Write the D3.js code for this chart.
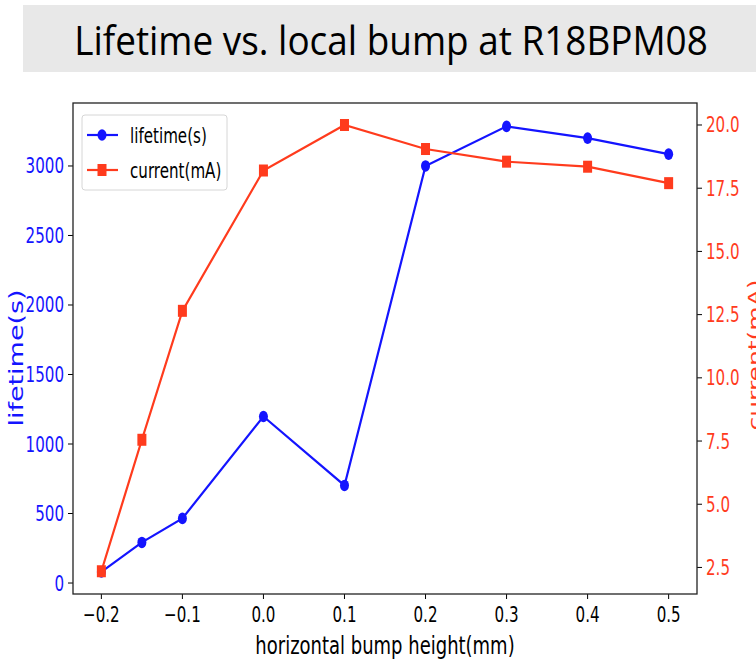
<!DOCTYPE html>
<html>
  <head>
    <meta charset="utf-8">
    <title>Lifetime vs. local bump</title>
    <script src="https://d3js.org/d3.v7.min.js"></script>
    <style>
      body { margin: 0; background: #fff; }
      text { font-family: "DejaVu Sans", sans-serif; }
    </style>
  </head>
  <body>
    <div id="chart"></div>
    <script>
      // data
      var bump = [-0.2, -0.15, -0.1, 0.0, 0.1, 0.2, 0.3, 0.4, 0.5];
      var lifetime = [80, 292, 465, 1198, 702, 3000, 3285, 3200, 3085];
      var current = [2.35, 7.55, 12.65, 18.2, 20.0, 19.05, 18.55, 18.35, 17.7];
      var xTicks = [-0.2, -0.1, 0.0, 0.1, 0.2, 0.3, 0.4, 0.5];
      var leftTicks = [0, 500, 1000, 1500, 2000, 2500, 3000];
      var rightTicks = [2.5, 5.0, 7.5, 10.0, 12.5, 15.0, 17.5, 20.0];

      var width = 756, height = 661;
      var blue = "#1414ff", red = "#ff3b1d";
      var sx = 0.72; // chart image was squeezed sideways
      var plot = { left: 73, right: 697, top: 103, bottom: 594 };

      var svg = d3.select("#chart").append("svg")
        .attr("width", width)
        .attr("height", height);

      // title banner
      svg.append("rect")
        .attr("x", 23).attr("y", 5)
        .attr("width", width - 23).attr("height", 67)
        .attr("fill", "#e8e8e8");
      svg.append("text")
        .attr("x", 391).attr("y", 55)
        .attr("text-anchor", "middle")
        .style("font-family", "'Open Sans', 'Noto Sans', sans-serif")
        .style("font-size", "41px")
        .attr("fill", "#000")
        .attr("transform", "translate(391,0) scale(0.9,1) translate(-391,0)")
        .text("Lifetime vs. local bump at R18BPM08");

      // scales
      var x = d3.scaleLinear().domain([-0.235, 0.535]).range([plot.left, plot.right]);
      var yL = d3.scaleLinear().domain([-79, 3453]).range([plot.bottom, plot.top]);
      var yR = d3.scaleLinear().domain([1.45, 20.87]).range([plot.bottom, plot.top]);

      // squeezed text helper
      function label(g, px, py, str, opts) {
        var t = g.append("text")
          .attr("transform", "translate(" + px + "," + py + ") scale(" + sx + ",1)" + (opts.rotate ? " rotate(" + opts.rotate + ")" : ""))
          .attr("text-anchor", opts.anchor || "start")
          .attr("fill", opts.color || "#000")
          .style("font-size", opts.size + "px")
          .text(str);
        return t;
      }

      var axes = svg.append("g");

      // x ticks
      xTicks.forEach(function(v) {
        axes.append("line")
          .attr("x1", x(v)).attr("x2", x(v))
          .attr("y1", plot.bottom).attr("y2", plot.bottom + 5)
          .attr("stroke", "#000").attr("stroke-width", 1);
        label(axes, x(v), plot.bottom + 28, d3.format(".1f")(v).replace("-", "\u2212"), { anchor: "middle", size: 21 });
      });

      // left ticks
      leftTicks.forEach(function(v) {
        axes.append("line")
          .attr("x1", plot.left - 5).attr("x2", plot.left)
          .attr("y1", yL(v)).attr("y2", yL(v))
          .attr("stroke", "#000");
        label(axes, plot.left - 9, yL(v) + 7.5, String(v), { anchor: "end", size: 21, color: blue });
      });

      // right ticks
      rightTicks.forEach(function(v) {
        axes.append("line")
          .attr("x1", plot.right).attr("x2", plot.right + 5)
          .attr("y1", yR(v)).attr("y2", yR(v))
          .attr("stroke", "#000");
        label(axes, plot.right + 9, yR(v) + 7.5, d3.format(".1f")(v), { anchor: "start", size: 21, color: red });
      });

      // axis labels
      label(axes, (plot.left + plot.right) / 2, 654, "horizontal bump height(mm)", { anchor: "middle", size: 25 });
      label(axes, 23, 358, "lifetime(s)", { anchor: "middle", size: 27, color: blue, rotate: -90 });
      label(axes, 761, 355, "current(mA)", { anchor: "middle", size: 25, color: red, rotate: -90 });

      // spines
      svg.append("rect")
        .attr("x", plot.left).attr("y", plot.top)
        .attr("width", plot.right - plot.left)
        .attr("height", plot.bottom - plot.top)
        .attr("fill", "none")
        .attr("stroke", "#222").attr("stroke-width", 1.3);

      // lines
      var lineL = d3.line().x(function(d, i) { return x(bump[i]); }).y(function(d) { return yL(d); });
      var lineR = d3.line().x(function(d, i) { return x(bump[i]); }).y(function(d) { return yR(d); });

      svg.append("path").attr("d", lineL(lifetime))
        .attr("fill", "none").attr("stroke", blue).attr("stroke-width", 2.2);
      svg.selectAll(".dotL").data(lifetime).enter().append("ellipse")
        .attr("cx", function(d, i) { return x(bump[i]); })
        .attr("cy", function(d) { return yL(d); })
        .attr("rx", 4.5).attr("ry", 5.8)
        .attr("fill", blue);

      svg.append("path").attr("d", lineR(current))
        .attr("fill", "none").attr("stroke", red).attr("stroke-width", 2.2);
      svg.selectAll(".dotR").data(current).enter().append("rect")
        .attr("x", function(d, i) { return x(bump[i]) - 4.5; })
        .attr("y", function(d) { return yR(d) - 6; })
        .attr("width", 9).attr("height", 12)
        .attr("fill", red);

      // legend
      var lg = svg.append("g");
      lg.append("rect")
        .attr("x", 82).attr("y", 115)
        .attr("width", 145).attr("height", 75)
        .attr("rx", 3)
        .attr("fill", "#fff").attr("fill-opacity", 0.85)
        .attr("stroke", "#d6d6d6");
      var entries = [
        { name: "lifetime(s)", color: blue, shape: "circle" },
        { name: "current(mA)", color: red, shape: "square" }
      ];
      entries.forEach(function(e, i) {
        var cy = 135 + i * 35;
        lg.append("line")
          .attr("x1", 87).attr("x2", 118)
          .attr("y1", cy).attr("y2", cy)
          .attr("stroke", e.color).attr("stroke-width", 2.2);
        if (e.shape === "circle") {
          lg.append("ellipse").attr("cx", 102).attr("cy", cy).attr("rx", 4.5).attr("ry", 5.8).attr("fill", e.color);
        } else {
          lg.append("rect").attr("x", 97.5).attr("y", cy - 6).attr("width", 9).attr("height", 12).attr("fill", e.color);
        }
        label(lg, 130, cy + 7.5, e.name, { anchor: "start", size: 21 });
      });
    </script>
  </body>
</html>
